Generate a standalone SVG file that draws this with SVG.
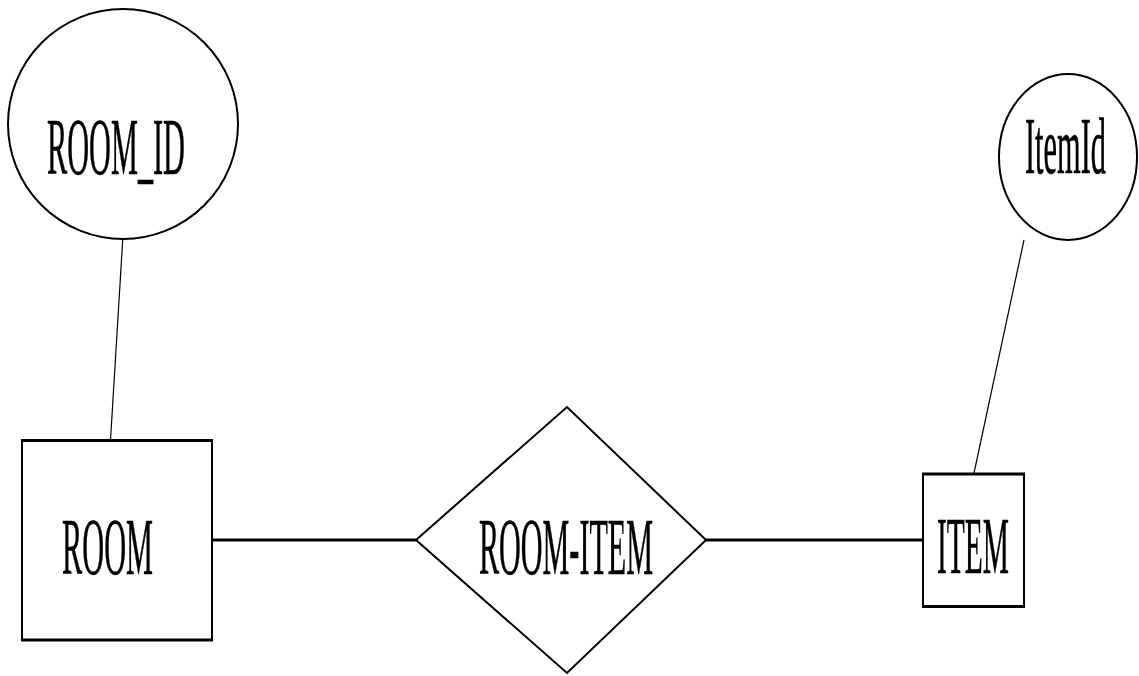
<svg xmlns="http://www.w3.org/2000/svg" width="1139" height="676" viewBox="0 0 1139 676">
<style>
.shape{fill:#fff;stroke:#000;stroke-width:2}
.edge{stroke:#000;fill:none}
.thin{stroke-width:1.2}
.thick{stroke-width:3}
.lbl{font-family:"Liberation Serif","Times New Roman",serif;font-size:81px;fill:#000;stroke:#000;stroke-width:0.6}
</style>
<rect width="1139" height="676" fill="#fff"/>
<g id="connectors">
<line class="edge thin" x1="122.7" y1="240" x2="110.5" y2="440"/>
<line class="edge thin" x1="1024" y1="240" x2="974" y2="473"/>
<line class="edge thick" x1="212" y1="540" x2="416" y2="540"/>
<line class="edge thick" x1="695" y1="540" x2="923" y2="540"/>
</g>
<g id="room_id">
<circle class="shape" cx="123" cy="124" r="115"/>
<text class="lbl" x="47" y="174" textLength="138" lengthAdjust="spacingAndGlyphs">ROOM_ID</text>
</g>
<g id="itemid">
<ellipse class="shape" cx="1068" cy="157" rx="69" ry="83"/>
<text class="lbl" x="1025" y="173" textLength="81" lengthAdjust="spacingAndGlyphs">ItemId</text>
</g>
<g id="room">
<rect class="shape" x="22" y="440" width="190" height="200"/>
<line class="edge thick" x1="21" y1="440.5" x2="213" y2="440.5"/>
<line class="edge thick" x1="21" y1="640" x2="213" y2="640"/>
<text class="lbl" x="62" y="574" textLength="91" lengthAdjust="spacingAndGlyphs">ROOM</text>
</g>
<g id="room_item">
<polygon class="shape" points="416,540 567,407 706,540 567,673"/>
<text class="lbl" x="479" y="574" textLength="174" lengthAdjust="spacingAndGlyphs">ROOM-ITEM</text>
</g>
<g id="item">
<rect class="shape" x="923" y="474" width="101" height="133"/>
<line class="edge thick" x1="922" y1="474" x2="1025" y2="474"/>
<line class="edge thick" x1="922" y1="606.5" x2="1025" y2="606.5"/>
<text class="lbl" x="937" y="573" textLength="72" lengthAdjust="spacingAndGlyphs">ITEM</text>
</g>
</svg>
